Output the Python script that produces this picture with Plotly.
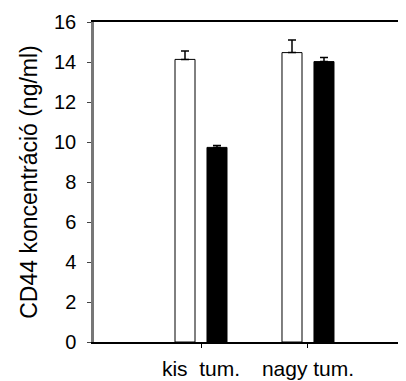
import plotly.graph_objects as go

groups = ["kis\u00a0 tum.", "nagy tum."]
group_pos = [0, 1]
white_vals = [14.13, 14.47]
white_err = [0.42, 0.63]
black_vals = [9.73, 14.02]
black_err = [0.10, 0.20]
y_ticks = [0, 2, 4, 6, 8, 10, 12, 14, 16]

FONT = "Arial, Liberation Sans, sans-serif"

fig = go.Figure()
fig.add_trace(go.Bar(
    x=group_pos, y=white_vals, width=0.187, offset=-0.243,
    marker=dict(color="white", line=dict(color="black", width=1)),
    error_y=dict(type="data", array=white_err, arrayminus=[0, 0], symmetric=False,
                 color="black", thickness=1.5, width=4),
    showlegend=False,
))
fig.add_trace(go.Bar(
    x=group_pos, y=black_vals, width=0.187, offset=0.056,
    marker=dict(color="black", line=dict(color="black", width=1)),
    error_y=dict(type="data", array=black_err, arrayminus=[0, 0], symmetric=False,
                 color="black", thickness=1.5, width=4),
    showlegend=False,
))

# The page body has an 8px default margin, so the figure is offset by (8, 8).
fig.update_layout(
    width=398, height=373,
    margin=dict(l=86, r=0, t=14, b=39),
    paper_bgcolor="white", plot_bgcolor="white",
    barmode="overlay",
    font=dict(family=FONT, size=20, color="black"),
    xaxis=dict(
        range=[-1.0, 1.916], tickvals=group_pos, ticktext=groups,
        tickfont=dict(size=21),
        showline=True, linecolor="black", linewidth=1.5, mirror=True,
        ticks="outside", ticklen=4, tickcolor="black", tickwidth=1,
        showgrid=False, zeroline=False, ticklabelstandoff=3, automargin=False,
    ),
    yaxis=dict(
        range=[0, 16], tickvals=y_ticks,
        showline=True, linecolor="#777777", linewidth=2.5,
        ticks="outside", ticklen=4, tickcolor="#444444", tickwidth=1,
        showgrid=False, zeroline=False, ticklabelstandoff=7, automargin=False,
        title=dict(text="CD44 koncentráció (ng/ml)", font=dict(size=23), standoff=10),
    ),
)

fig.write_html("out.html")
